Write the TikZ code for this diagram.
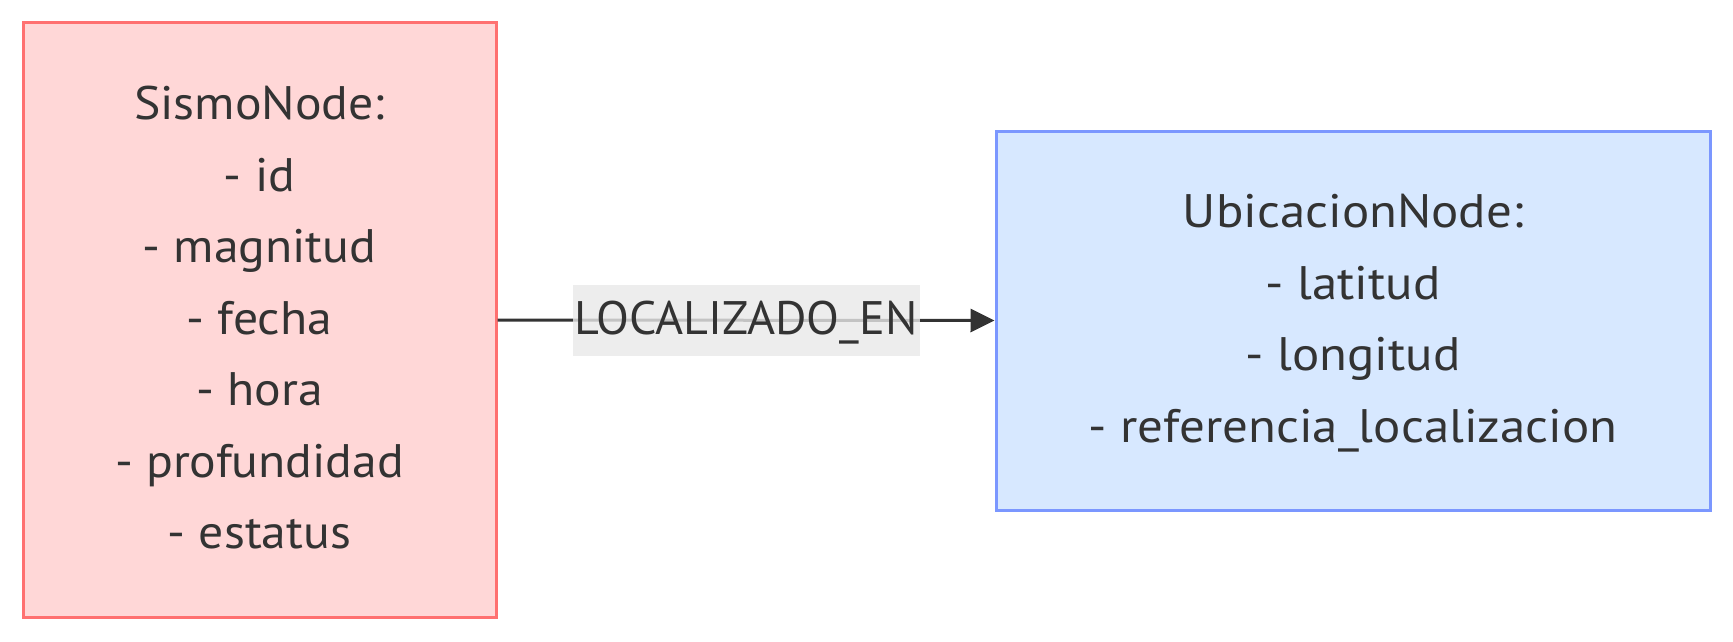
\documentclass[tikz,border=0pt]{standalone}
\usepackage{fontspec}
\setmainfont{PT Sans}
\usetikzlibrary{arrows.meta}
\definecolor{txt}{HTML}{333333}
\definecolor{sfill}{HTML}{FFD7D7}
\definecolor{sdraw}{HTML}{FF7070}
\definecolor{ufill}{HTML}{D7E8FF}
\definecolor{udraw}{HTML}{7B97FF}
\definecolor{lblbg}{HTML}{E8E8E8}
\newlength\mywd
\newcommand\bigfont{\fontsize{47}{71.5}\selectfont}
\begin{document}
\settowidth\mywd{\bigfont - profundidad}
\pgfmathsetmacro\sxL{289/\mywd}
\settowidth\mywd{\bigfont - referencia\_localizacion}
\pgfmathsetmacro\sxR{529/\mywd}
\settowidth\mywd{\bigfont LOCALIZADO\_EN}
\pgfmathsetmacro\sxE{343/\mywd}
\begin{tikzpicture}[x=1pt,y=-1pt,
  boxnode/.style={rectangle, line width=3pt, inner sep=0pt, text=txt, font=\bigfont},
  edgelbl/.style={fill=lblbg, fill opacity=0.8, text opacity=1, text=txt, font=\bigfont, inner xsep=2pt, inner ysep=0pt, minimum height=71pt},
  conn/.style={line width=3pt, draw=txt, -{Triangle[length=24pt,width=23pt]}}]
\useasboundingbox (0,0) rectangle (1733,642);
\node[boxnode, fill=sfill, draw=sdraw, minimum width=473pt, minimum height=594pt] (S) at (259.5,320)
  {\scalebox{\sxL}[1]{\begin{tabular}{@{}c@{}}SismoNode:\\- id\\- magnitud\\- fecha\\- hora\\- profundidad\\- estatus\end{tabular}}};
\node[boxnode, fill=ufill, draw=udraw, minimum width=714pt, minimum height=379pt] (U) at (1353,320.5)
  {\scalebox{\sxR}[1]{\begin{tabular}{@{}c@{}}UbicacionNode:\\- latitud\\- longitud\\- referencia\_localizacion\end{tabular}}};
\draw[conn] (S.east) -- node[edgelbl] (L) {\scalebox{\sxE}[1]{\strut LOCALIZADO\_EN}} (U.west);
\end{tikzpicture}
\end{document}
